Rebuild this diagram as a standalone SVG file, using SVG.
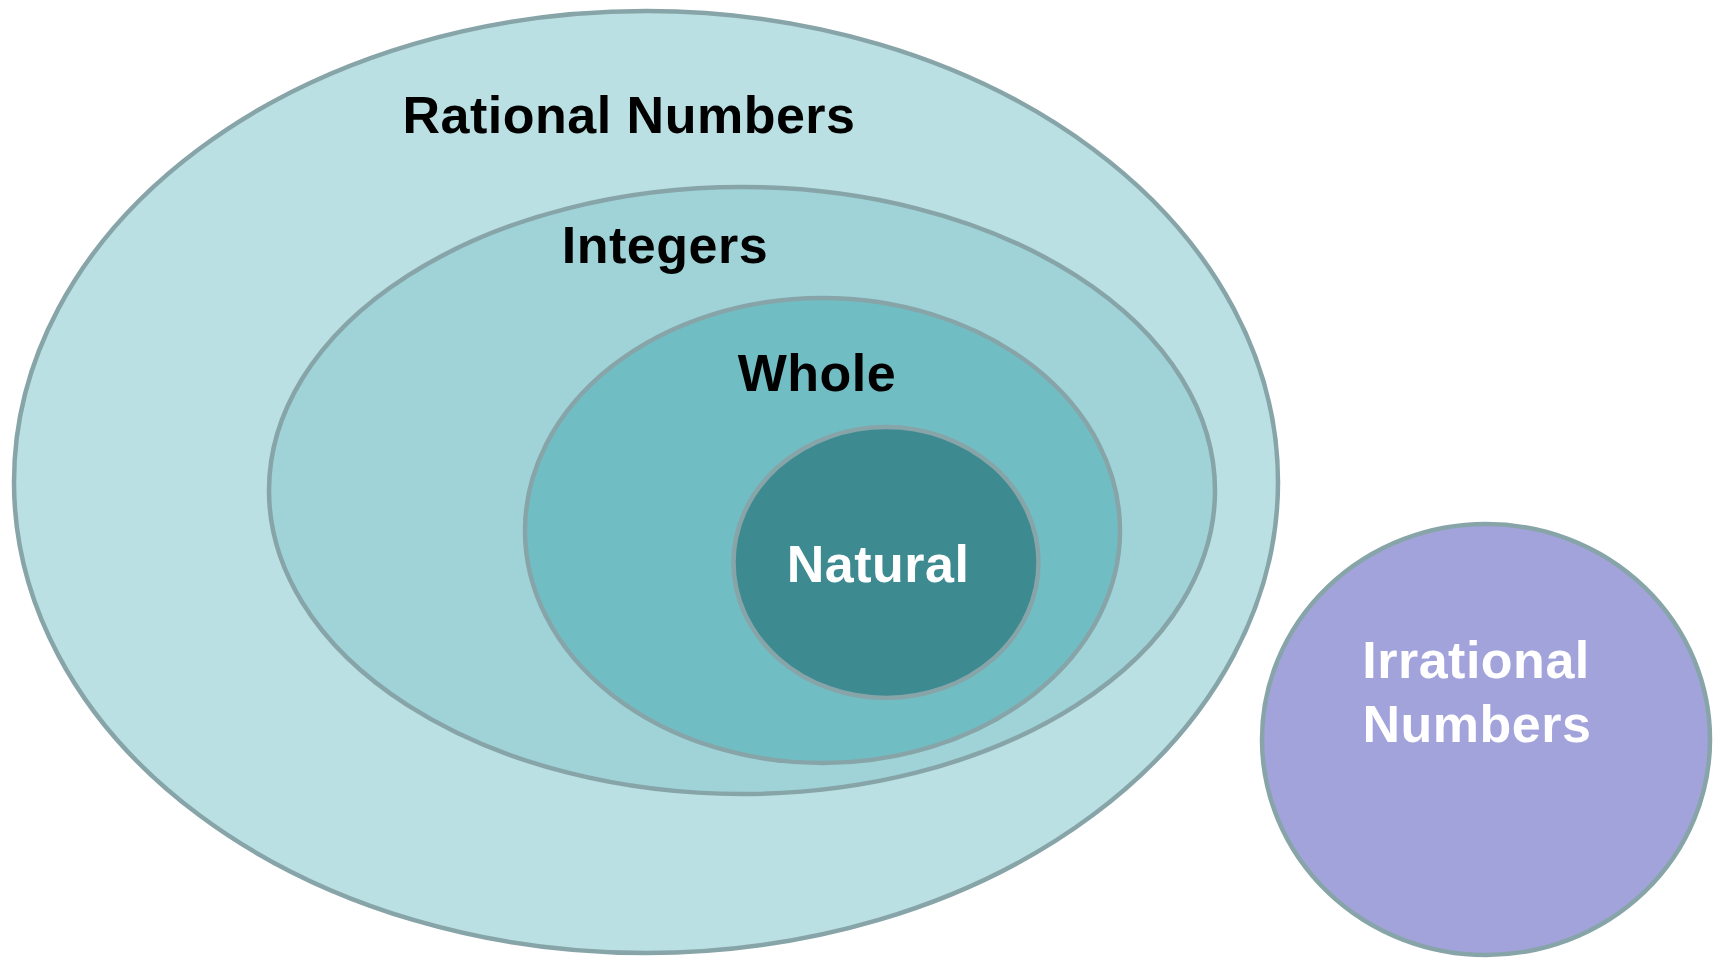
<svg xmlns="http://www.w3.org/2000/svg" width="1716" height="958" viewBox="0 0 1716 958">
<style>
.s{stroke:#87A5A8;stroke-width:4.5}
.t{font-family:"Liberation Sans",Arial,sans-serif;font-weight:bold;font-size:52px;letter-spacing:0.5px;text-anchor:middle}
.d{fill:#000}
.w{fill:#fff}
</style>
<rect width="1716" height="958" fill="#fff"/>
<g id="rational">
<ellipse class="s" cx="646" cy="482" rx="632" ry="471" fill="#BAE0E3"/>
<text class="t d" x="629" y="133">Rational Numbers</text>
</g>
<g id="integers">
<ellipse class="s" cx="742" cy="490.5" rx="473" ry="303.5" fill="#9FD3D8"/>
<text class="t d" x="665" y="263">Integers</text>
</g>
<g id="whole">
<ellipse class="s" cx="822.5" cy="530.5" rx="297.5" ry="232.5" fill="#71BDC4"/>
<text class="t d" x="817" y="391">Whole</text>
</g>
<g id="natural">
<ellipse class="s" cx="886" cy="562.5" rx="152.5" ry="135.5" fill="#3D8A91"/>
<text class="t w" x="878" y="582">Natural</text>
</g>
<g id="irrational">
<ellipse class="s" cx="1486" cy="739.5" rx="224" ry="215.5" fill="#A3A3DC"/>
<text class="t w" x="1476" y="678">Irrational</text>
<text class="t w" x="1477" y="742">Numbers</text>
</g>
<g id="connectors"></g>
</svg>
